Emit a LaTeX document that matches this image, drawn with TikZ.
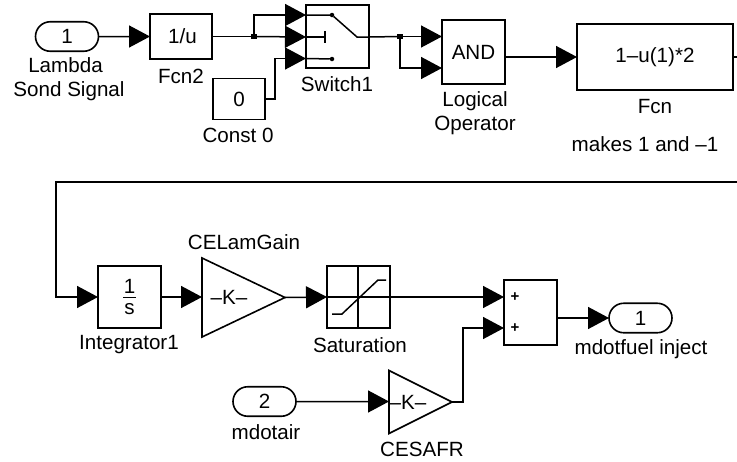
\documentclass[tikz,border=0pt]{standalone}
\usepackage{fontspec}
\setmainfont{Liberation Sans}
\usetikzlibrary{arrows.meta,shapes.geometric,shapes.misc}
\tikzset{
  every node/.style={font=\fontsize{20.6}{24}\selectfont,inner sep=0pt,outer sep=0pt},
  blk/.style={draw,line width=1.6pt,rectangle,fill=white},
  port/.style={draw,line width=1.6pt,rounded rectangle,minimum width=63pt,minimum height=29.5pt,fill=white},
  gain/.style={draw,line width=1.6pt,isosceles triangle,isosceles triangle stretches,shape border rotate=0,fill=white},
  wire/.style={line width=1.5pt,-{Triangle[length=21pt,width=22pt,sep=0pt]}},
  plain/.style={line width=1.5pt},
  junct/.style={fill=black,rectangle,minimum size=5.5pt},
  sdot/.style={fill=black,circle,minimum size=4.5pt},
  plus/.style={font=\bfseries\fontsize{15}{15}\selectfont},
}
\begin{document}
\begin{tikzpicture}[x=1pt,y=-1pt]
\useasboundingbox (0,0) rectangle (737,461);
% top row
\node[port] (in1) at (67,36.5) {1};
\node[align=center] (in1l) at (69,79.5) {Lambda\hspace*{7pt}\\Sond Signal};
\node[blk,minimum width=62pt,minimum height=45pt] (fcn2) at (181,36.5) {\hspace*{3pt}1/u};
\node (fcn2l) at (181,76) {Fcn2};
\node[blk,minimum width=52pt,minimum height=41pt] (c0) at (239,99) {0};
\node (c0l) at (238,135) {Const 0};
\node[blk,minimum width=63pt,minimum height=63pt] (sw) at (337.5,36.5) {};
\node (swl) at (337,84) {Switch1};
\coordinate (sw1) at (306,15);
\coordinate (sw2) at (306,37);
\coordinate (sw3) at (306,58.5);
\node[sdot] (d1) at (332,15) {};
\node[sdot] (d3) at (332,59) {};
\coordinate (swm) at (357,37);
\coordinate (swb) at (325,37);
\coordinate (swout) at (369,37);
\draw[plain] (sw1) -- (d1) -- (swm) -- (swout);
\draw[plain] (sw2) -- (swb);
\draw[line width=1.6pt] (325,31) -- (325,43);
\draw[plain] (sw3) -- (d3);
\node[junct] (j1) at (254,36.5) {};
\draw[wire] (in1) -- (fcn2);
\draw[plain] (fcn2) -- (j1);
\draw[wire] (j1) |- (sw1);
\draw[wire] (j1) -- (sw2);
\draw[wire] (c0.east) -- (275,99) |- (sw3);
\node[blk,minimum width=63pt,minimum height=64pt] (and) at (473.5,52) {AND};
\node[align=center] (andl) at (475,113) {Logical\\Operator};
\node[junct] (j2) at (400,36.5) {};
\coordinate (and1) at (442,36.5);
\coordinate (and2) at (442,68);
\draw[plain] (swout) -- (j2);
\draw[wire] (j2) -- (and1);
\draw[wire] (j2) |- (and2);
\node[blk,minimum width=156pt,minimum height=66pt] (fcn) at (655,57) {1–u(1)*2};
\node (fcnl) at (655,107) {Fcn};
\node (fcnc) at (645,144) {makes 1 and –1};
\draw[wire] (and.east |- fcn.west) -- (fcn.west);
% feedback
\coordinate (fbr) at (737,182);
\coordinate (fcnr) at (737,57);
\draw[plain] (fcn.east) -- (fcnr);
% bottom row
\node[blk,minimum width=63pt,minimum height=62pt] (int) at (129.5,297) {};
\node (intn) at (129.5,286) {1};
\node (intd) at (129.5,309) {s};
\draw[line width=1.2pt] (123,297.5) -- (136,297.5);
\node (intl) at (129,345) {Integrator1};
\node[gain,minimum width=79pt,minimum height=83pt,anchor=apex] (cel) at (285,297.5) {};
\node (celk) at (229,297) {–K–};
\node (cell) at (244,242) {CELamGain};
\node[blk,minimum width=63pt,minimum height=62pt] (sat) at (358.5,297) {};
\draw[line width=1.2pt] (sat.west) -- (sat.east) (358,267) -- (358,327);
\draw[plain] (332,314) -- (342,314) -- (378,280) -- (386,280);
\node (satl) at (360,345) {Saturation};
\node[blk,minimum width=53pt,minimum height=65pt] (sum) at (530.5,312.5) {};
\node[plus] (p1) at (515,297) {+};
\node[plus] (p2) at (515,328.5) {+};
\coordinate (sum1) at (504,297);
\coordinate (sum2) at (504,328);
\node[port] (out1) at (640.5,318) {1};
\node (out1l) at (641,349) {mdotfuel inject};
\node[port] (in2) at (264.5,401.5) {2};
\node (in2l) at (266,432) {mdotair};
\node[gain,minimum width=63pt,minimum height=63pt,anchor=apex] (ces) at (452,402) {};
\node (cesk) at (408,402) {–K–};
\node (cesl) at (422,449) {CESAFR};
\draw[wire] (fbr) -- (56,182) -- (56,297) -- (int.west);
\draw[wire] (int.east) -- (cel.lower side |- int.east);
\draw[wire] (cel.apex) -- (sat.west);
\draw[wire] (sat.east) -- (sum1);
\draw[wire] (ces.apex) -- (463,402) |- (sum2);
\draw[wire] (in2) -- (ces.lower side |- in2);
\draw[wire] (sum.east |- out1) -- (out1.west);
\end{tikzpicture}
\end{document}
